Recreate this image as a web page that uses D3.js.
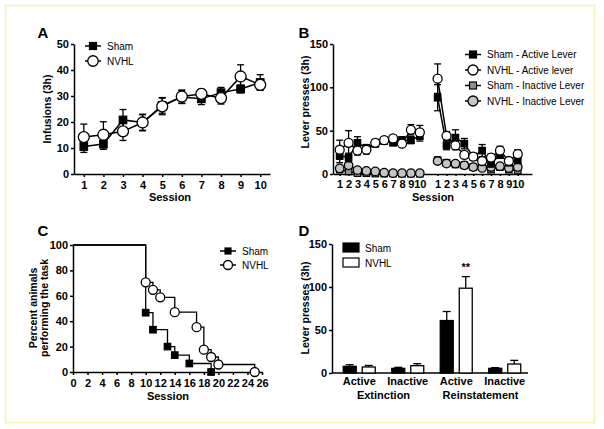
<!DOCTYPE html>
<html>
<head>
<meta charset="utf-8">
<script src="https://cdn.jsdelivr.net/npm/d3@7"></script>
<style>
body { margin: 0; background: #fff; }
svg text { font-family: "Liberation Sans", Arial, sans-serif; fill: #000; }
</style>
</head>
<body>
<script>
// ---- data ----
var sessions = [1, 2, 3, 4, 5, 6, 7, 8, 9, 10];

// A: infusions
var shamInf = [10.6, 11.5, 20.8, 19.8, 26.4, 29.6, 28.9, 31.3, 32.7, 35.2];
var shamInfErr = [2.3, 2, 4, 3.2, 3, 2.5, 2.2, 2, 1.5, 3];
var nvhlInf = [14.2, 15.1, 16.4, 19.8, 26, 29.8, 30.8, 29.2, 37.5, 34.3];
var nvhlInfErr = [5, 5, 3.5, 3, 3.2, 2.5, 1.8, 2.3, 4.5, 2];

// B: lever presses, two blocks of 10 sessions
var shamAct1 = [21, 19, 36, 30, 35, 38, 36, 39, 39, 44];
var shamAct1Err = [8, 5, 7, 4, 4, 3, 3, 4, 4, 6];
var nvhlAct1 = [28, 36, 27, 28, 36, 39, 41, 35, 51, 48];
var nvhlAct1Err = [11, 14, 5, 5, 4, 3, 3, 3, 6, 8];
var shamIna1 = [5, 3, 1, 1, 0.5, 0.5, 0.5, 0.3, 0.3, 0.3];
var nvhlIna1 = [6.5, 10, 4.5, 3.5, 3, 1.5, 1, 1, 1, 1];
var shamAct2 = [88, 33, 42, 35, 20, 27, 12, 22, 13, 16];
var shamAct2Err = [15, 5, 9, 6, 4, 7, 4, 4, 3, 4];
var nvhlAct2 = [110, 44, 33, 22, 20, 15, 19, 27, 15, 23];
var nvhlAct2Err = [17, 5, 5, 4, 3, 3, 4, 5, 3, 5];
var shamIna2 = [16, 13, 11, 10, 8, 8, 5, 8, 5, 4];
var nvhlIna2 = [15, 12, 12, 10, 8, 7, 8, 9, 7, 8];

// C: percent performing the task
var shamSurvSession = [0, 10, 11, 13, 14, 16, 19];
var shamSurvPct = [100, 46.7, 33.3, 20, 13.3, 6.7, 0];
var nvhlSurvSession = [0, 10, 11, 12, 14, 17, 18, 19, 20, 25];
var nvhlSurvPct = [100, 70.6, 64.7, 58.8, 47.1, 35.3, 17.6, 11.8, 5.9, 0];

// D: extinction / reinstatement
var barLabels = ['Active', 'Inactive', 'Active', 'Inactive'];
var phaseLabels = ['Extinction', 'Reinstatement'];
var shamBar = [7.7, 5.4, 61, 5.4];
var shamBarErr = [1.9, 1.2, 10.5, 0.8];
var nvhlBar = [7, 8.5, 98.6, 10.4];
var nvhlBarErr = [1.8, 2.3, 13.5, 4.3];

var font = '"Liberation Sans", Arial, sans-serif';
var grey1 = '#8f8f8f', grey2 = '#c4c4c4';

var svg = d3.select('body')
	.append('svg')
	.attr('width', 604)
	.attr('height', 429);

// pale frame
svg.append('rect')
	.attr('x', 5.5).attr('y', 5.5)
	.attr('width', 589).attr('height', 417)
	.attr('fill', 'none')
	.attr('stroke', '#f7f1b4')
	.attr('stroke-width', 1.5);

var styleAxis = function(g) {
	g.attr('font-family', font).attr('font-size', 11).attr('font-weight', 'bold');
	g.select('.domain').attr('stroke', '#000').attr('stroke-width', 1.5);
	g.selectAll('.tick line').attr('stroke', '#000').attr('stroke-width', 1.5);
	g.selectAll('.tick text').attr('fill', '#000');
};

var label = function(txt, x, y, size, rotate, weight) {
	var t = svg.append('text')
		.attr('text-anchor', 'middle')
		.attr('font-size', size)
		.attr('font-weight', weight || 'bold')
		.text(txt);
	if (rotate) t.attr('transform', 'translate(' + x + ',' + y + ') rotate(-90)');
	else t.attr('x', x).attr('y', y);
	return t;
};

var marker = function(g, shape, x, y, s, fill) {
	if (shape === 'square') {
		g.append('rect')
			.attr('x', x - s / 2).attr('y', y - s / 2)
			.attr('width', s).attr('height', s)
			.attr('fill', fill).attr('stroke', '#000').attr('stroke-width', 1.2);
	} else {
		g.append('circle')
			.attr('cx', x).attr('cy', y).attr('r', s / 2)
			.attr('fill', fill).attr('stroke', '#000').attr('stroke-width', 1.3);
	}
};

// series with error bars, line and markers
var series = function(xs, vals, errs, x, y, shape, fill, size) {
	var g = svg.append('g');
	if (errs) {
		vals.forEach(function(v, i) {
			var cx = x(xs[i]);
			g.append('line')
				.attr('x1', cx).attr('x2', cx)
				.attr('y1', y(v - errs[i])).attr('y2', y(v + errs[i]))
				.attr('stroke', '#000').attr('stroke-width', 1.3);
			[v - errs[i], v + errs[i]].forEach(function(e) {
				g.append('line')
					.attr('x1', cx - 3.5).attr('x2', cx + 3.5)
					.attr('y1', y(e)).attr('y2', y(e))
					.attr('stroke', '#000').attr('stroke-width', 1.3);
			});
		});
	}
	var line = d3.line()
		.x(function(d, i) { return x(xs[i]); })
		.y(function(d) { return y(d); });
	g.append('path')
		.attr('d', line(vals))
		.attr('fill', 'none')
		.attr('stroke', '#000')
		.attr('stroke-width', 1.5);
	vals.forEach(function(v, i) {
		marker(g, shape, x(xs[i]), y(v), size, fill);
	});
};

var legendRow = function(x, y, shape, fill, size, txt) {
	var g = svg.append('g');
	g.append('line')
		.attr('x1', x).attr('x2', x + 16)
		.attr('y1', y).attr('y2', y)
		.attr('stroke', '#000').attr('stroke-width', 1.5);
	marker(g, shape, x + 8, y, size, fill);
	g.append('text')
		.attr('x', x + 22).attr('y', y + 3.6)
		.attr('font-size', 10)
		.text(txt);
};

// ---- A ----
var xA = d3.scaleLinear().domain([0.5, 10.5]).range([74, 270]);
var yA = d3.scaleLinear().domain([0, 50]).range([174, 44]);
svg.append('g').attr('transform', 'translate(0,174)')
	.call(d3.axisBottom(xA).tickValues(sessions).tickSize(3).tickSizeOuter(0).tickPadding(4))
	.call(styleAxis);
svg.append('g').attr('transform', 'translate(74,0)')
	.call(d3.axisLeft(yA).ticks(5).tickSize(3).tickSizeOuter(0).tickPadding(2))
	.call(styleAxis);
series(sessions, shamInf, shamInfErr, xA, yA, 'square', '#000', 7.5);
series(sessions, nvhlInf, nvhlInfErr, xA, yA, 'circle', '#fff', 11);
legendRow(85, 46, 'square', '#000', 7, 'Sham');
legendRow(85, 61, 'circle', '#fff', 10.5, 'NVHL');
label('A', 43, 38, 15);
label('Session', 170, 201, 11);
label('Infusions  (3h)', 51, 109, 10.5, true);

// ---- B ----
var block1 = sessions;
var block2 = sessions.map(function(s) { return s + 11; });
var xB = d3.scaleLinear().domain([0.25, 22.6]).range([333, 532]);
var yB = d3.scaleLinear().domain([0, 150]).range([174, 44]);
svg.append('g').attr('transform', 'translate(0,174)')
	.call(d3.axisBottom(xB).tickValues(block1.concat(block2)).tickSize(2).tickSizeOuter(0).tickPadding(4)
		.tickFormat(function(d) { return d > 10 ? d - 11 : d; }))
	.call(styleAxis);
svg.append('g').attr('transform', 'translate(333,0)')
	.call(d3.axisLeft(yB).tickValues([0, 50, 100, 150]).tickSize(3).tickSizeOuter(0).tickPadding(2))
	.call(styleAxis);
series(block1, shamIna1, null, xB, yB, 'square', grey1, 6.5);
series(block1, nvhlIna1, null, xB, yB, 'circle', grey2, 8.5);
series(block1, shamAct1, shamAct1Err, xB, yB, 'square', '#000', 6.5);
series(block1, nvhlAct1, nvhlAct1Err, xB, yB, 'circle', '#fff', 9);
series(block2, shamIna2, null, xB, yB, 'square', grey1, 6.5);
series(block2, nvhlIna2, null, xB, yB, 'circle', grey2, 8.5);
series(block2, shamAct2, shamAct2Err, xB, yB, 'square', '#000', 6.5);
series(block2, nvhlAct2, nvhlAct2Err, xB, yB, 'circle', '#fff', 9);
legendRow(465, 54.5, 'square', '#000', 7, 'Sham - Active Lever');
legendRow(465, 70, 'circle', '#fff', 10, 'NVHL - Active lever');
legendRow(465, 85.5, 'square', grey1, 7, 'Sham - Inactive Lever');
legendRow(465, 101, 'circle', grey2, 10, 'NVHL - Inactive Lever');
label('B', 304, 38, 15);
label('Session', 433, 201, 11);
label('Lever presses (3h)', 309, 102, 10.5, true);

// ---- C ----
var xC = d3.scaleLinear().domain([0, 26]).range([73, 262]);
var yC = d3.scaleLinear().domain([0, 100]).range([372, 245]);
svg.append('g').attr('transform', 'translate(0,372)')
	.call(d3.axisBottom(xC).tickValues(d3.range(0, 27, 2)).tickSize(3).tickSizeOuter(0).tickPadding(4))
	.call(styleAxis);
svg.append('g').attr('transform', 'translate(73,0)')
	.call(d3.axisLeft(yC).ticks(5).tickSize(3).tickSizeOuter(0).tickPadding(2))
	.call(styleAxis);
var stepPath = function(xs, ys) {
	var pts = xs.map(function(s, i) { return [xC(s), yC(ys[i])]; });
	svg.append('path')
		.attr('d', d3.line().curve(d3.curveStepAfter)(pts))
		.attr('fill', 'none')
		.attr('stroke', '#000')
		.attr('stroke-width', 1.3);
};
stepPath(nvhlSurvSession, nvhlSurvPct);
stepPath(shamSurvSession, shamSurvPct);
var cMarks = svg.append('g');
shamSurvSession.forEach(function(s, i) {
	if (i > 0) marker(cMarks, 'square', xC(s), yC(shamSurvPct[i]), 6.5, '#000');
});
nvhlSurvSession.forEach(function(s, i) {
	if (i > 0) marker(cMarks, 'circle', xC(s), yC(nvhlSurvPct[i]), 9, '#fff');
});
legendRow(220, 251, 'square', '#000', 6, 'Sham');
legendRow(220, 265, 'circle', '#fff', 9, 'NVHL');
label('C', 43, 236, 15);
label('Session', 168, 400, 11);
label('Percent animals', 37, 308, 10.5, true);
label('performing the task', 48, 308, 10.5, true);

// ---- D ----
var xD = d3.scaleBand().domain(d3.range(barLabels.length)).range([335, 529]);
var yD = d3.scaleLinear().domain([0, 150]).range([373, 244]);
svg.append('g').attr('transform', 'translate(332,0)')
	.call(d3.axisLeft(yD).tickValues([0, 50, 100, 150]).tickSize(3).tickSizeOuter(0).tickPadding(2))
	.call(styleAxis);
svg.append('line')
	.attr('x1', 332).attr('x2', 528)
	.attr('y1', 373).attr('y2', 373)
	.attr('stroke', '#000').attr('stroke-width', 1.5);

var bars = function(vals, errs, offset, fill) {
	var g = svg.append('g');
	vals.forEach(function(v, i) {
		var cx = xD(i) + xD.bandwidth() / 2 + offset;
		g.append('line')
			.attr('x1', cx).attr('x2', cx)
			.attr('y1', yD(v)).attr('y2', yD(v + errs[i]))
			.attr('stroke', '#000').attr('stroke-width', 1.3);
		g.append('line')
			.attr('x1', cx - 4).attr('x2', cx + 4)
			.attr('y1', yD(v + errs[i])).attr('y2', yD(v + errs[i]))
			.attr('stroke', '#000').attr('stroke-width', 1.3);
		g.append('rect')
			.attr('x', cx - 6.5).attr('y', yD(v))
			.attr('width', 13).attr('height', yD(0) - yD(v))
			.attr('fill', fill).attr('stroke', '#000').attr('stroke-width', 1.3);
	});
};
bars(shamBar, shamBarErr, -9.5, '#000');
bars(nvhlBar, nvhlBarErr, 9.5, '#fff');

barLabels.forEach(function(t, i) {
	label(t, xD(i) + xD.bandwidth() / 2, 385, 11);
});
phaseLabels.forEach(function(t, i) {
	label(t, (xD(i * 2) + xD(i * 2 + 1) + xD.bandwidth()) / 2, 399, 11);
});
label('**', xD(2) + xD.bandwidth() / 2 + 9.5, 271, 11);

svg.append('rect').attr('x', 343).attr('y', 243).attr('width', 16).attr('height', 9)
	.attr('fill', '#000').attr('stroke', '#000').attr('stroke-width', 1.2);
svg.append('rect').attr('x', 343).attr('y', 258).attr('width', 16).attr('height', 9)
	.attr('fill', '#fff').attr('stroke', '#000').attr('stroke-width', 1.2);
svg.append('text').attr('x', 365).attr('y', 251.5).attr('font-size', 10).text('Sham');
svg.append('text').attr('x', 365).attr('y', 266.5).attr('font-size', 10).text('NVHL');
label('D', 304, 236, 15);
label('Lever presses (3h)', 309, 308, 10.5, true);
</script>
</body>
</html>
